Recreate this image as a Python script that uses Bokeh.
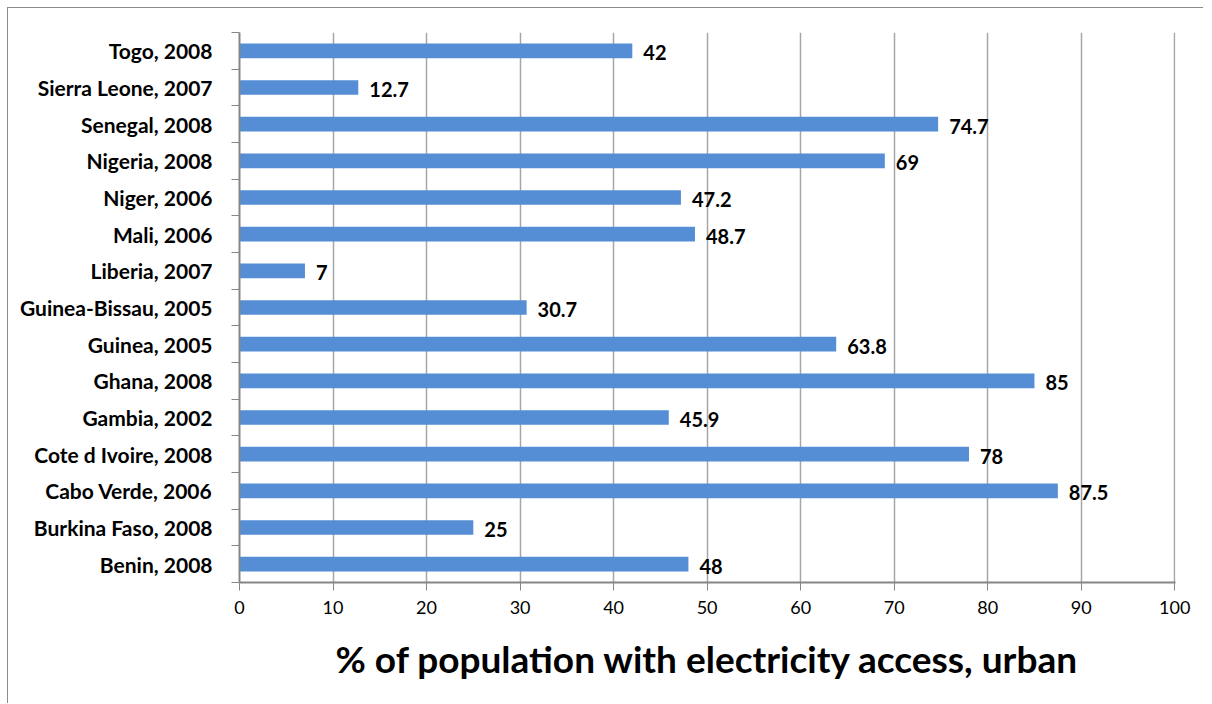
from bokeh.plotting import figure
from bokeh.models import (Range1d, LinearAxis, FixedTicker, ColumnDataSource)
from bokeh.core.properties import value
from bokeh.embed import file_html
from bokeh.resources import INLINE

countries = ["Benin, 2008", "Burkina Faso, 2008", "Cabo Verde, 2006",
             "Cote d Ivoire, 2008", "Gambia, 2002", "Ghana, 2008",
             "Guinea, 2005", "Guinea-Bissau, 2005", "Liberia, 2007",
             "Mali, 2006", "Niger, 2006", "Nigeria, 2008", "Senegal, 2008",
             "Sierra Leone, 2007", "Togo, 2008"]
access = [48, 25, 87.5, 78, 45.9, 85, 63.8, 30.7, 7, 48.7, 47.2, 69, 74.7, 12.7, 42]
x_ticks = [0, 10, 20, 30, 40, 50, 60, 70, 80, 90, 100]
x_title = "% of population with electricity access, urban"

FONT = "Lato"
AXIS_COL = "#868686"
GRID_COL = "#a6a6a6"

n = len(countries)
centers = [i + 0.5 for i in range(n)]
bounds = list(range(n + 1))
src = ColumnDataSource(dict(y=centers, val=access,
                            lab=[f"{v:g}" for v in access]))

p = figure(width=1196, height=696, output_backend="svg", toolbar_location=None,
           y_range=Range1d(0, n), x_range=Range1d(0, 100.08),
           y_axis_location=None, min_border_left=231, min_border_top=24,
           min_border_right=29, min_border_bottom=122)
p.styles = {"margin-left": "7px", "margin-top": "7px",
            "border-left": "1px solid #8c8c8c", "border-top": "1px solid #8c8c8c"}
p.outline_line_color = None
p.background_fill_color = "white"
p.border_fill_color = "white"

p.hbar(y="y", right="val", left=0, height=0.4, source=src,
       fill_color="#558ed5", line_color=None)
p.text(x="val", y="y", text="lab", source=src, x_offset=11, y_offset=2,
       text_font=value(FONT), text_font_style="bold", text_font_size="20px",
       text_baseline="middle", text_align="left", text_color="black")

# x axis
xa = p.xaxis[0]
xa.ticker = FixedTicker(ticks=x_ticks)
xa.axis_line_color = AXIS_COL
xa.axis_line_width = 2
xa.major_tick_line_color = AXIS_COL
xa.major_tick_in = 0
xa.major_tick_out = 8
xa.minor_tick_line_color = None
xa.major_label_text_font = FONT
xa.major_label_text_font_size = "18px"
xa.major_label_text_color = "black"
xa.major_label_standoff = 10
xa.axis_label = x_title
xa.axis_label_text_font = FONT
xa.axis_label_text_font_style = "bold"
xa.axis_label_text_font_size = "37px"
xa.axis_label_text_color = "black"
xa.axis_label_standoff = 19

p.xgrid.ticker = FixedTicker(ticks=x_ticks)
p.xgrid.grid_line_color = GRID_COL
p.xgrid.grid_line_width = 1.5
p.ygrid.grid_line_color = None

# y axis: boundary ticks + labels
tick_axis = LinearAxis(ticker=FixedTicker(ticks=bounds),
                       major_label_overrides={b: "" for b in bounds},
                       major_label_standoff=0,
                       major_tick_in=0, major_tick_out=8,
                       minor_tick_line_color=None,
                       axis_line_color=AXIS_COL, axis_line_width=2,
                       major_tick_line_color=AXIS_COL)
label_axis = LinearAxis(ticker=FixedTicker(ticks=centers),
                        major_label_overrides={c: name for c, name in zip(centers, countries)},
                        major_tick_line_color=None, axis_line_color=None,
                        minor_tick_line_color=None,
                        major_label_standoff=13,
                        major_label_text_font=FONT,
                        major_label_text_font_style="bold",
                        major_label_text_font_size="21px",
                        major_label_text_color="black")
p.add_layout(tick_axis, "left")
p.add_layout(label_axis, "left")

open("out.html", "w").write(file_html(p, INLINE))
